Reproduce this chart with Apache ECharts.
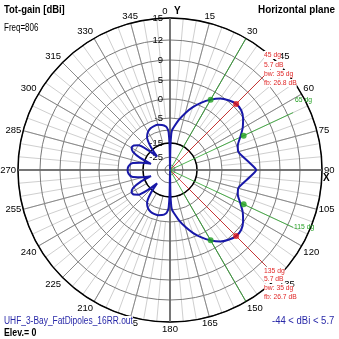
<!DOCTYPE html>
<html><head><meta charset="utf-8">
<script src="https://cdn.jsdelivr.net/npm/echarts@6/dist/echarts.min.js"></script>
<style>html,body{margin:0;padding:0;background:#fff}#c{width:339px;height:339px}</style>
</head><body><div id="c"></div>
<script>
// ---- data ----
const ANGLES = [0,1,2,3,5,10,15,20,25,30,35,40,45,50,55,60,65,70,75,80,85,90,95,100,105,110,115,120,125,130,135,140,145,150,155,160,165,170,175,177,178,179,180,
  181,182,183,185,190,195,200,205,210,215,220,224,228,232,236,240,244,248,252,256,260,265,270,
  275,280,284,288,292,296,300,304,308,312,316,320,325,330,335,340,345,350,355,357,358,359,360];
const GAIN_DBI = [-44,-18,-11.5,-10,-8.8,-5.5,-3.2,-1.1,0.9,2.7,4.3,5.2,5.7,5.6,4.8,3.4,1.7,0.3,-0.1,0.9,2.4,4.0,2.4,0.9,-0.1,0.3,1.7,3.4,4.8,5.6,5.7,5.2,4.3,2.7,0.9,-1.1,-3.2,-5.5,-8.8,-10,-11.5,-18,-44,
  -17,-11,-9.8,-8.6,-7.6,-7.2,-7.2,-7.5,-8.3,-10,-14,-21,-14,-10,-8.4,-8.2,-9.5,-13,-20,-14,-10.5,-9.3,-9.0,
  -9.3,-10.5,-14,-20,-13,-9.5,-8.2,-8.4,-10,-14,-21,-14,-10,-8.3,-7.5,-7.2,-7.2,-7.6,-8.6,-9.8,-11,-17,-44];
const RING_DB = [15,12,9,5,0,-5,-10,-15,-25,-35];
const RING_LABEL_DB = [15,12,9,5,0,-5,-15,-25,-35];
const PEAK_ANGLES = [45,135];
const PEAK_DB = 5.7;
const HALF_POWER_ANGLES = [30,65,115,150];
const HALF_POWER_DB = 2.7;

// ---- nonlinear radial scale (dB -> radius units) ----
const SCALE_DB = [-45,-35,-25,-15,-10,-5,0,5,9,12,15];
const SCALE_R  = [0,5,13,27,40,52,71,90,110,130,152];
function toR(db){
  if (db <= SCALE_DB[0]) return SCALE_R[0];
  for (let i=1;i<SCALE_DB.length;i++){
    if (db <= SCALE_DB[i]){
      const t=(db-SCALE_DB[i-1])/(SCALE_DB[i]-SCALE_DB[i-1]);
      return SCALE_R[i-1]+t*(SCALE_R[i]-SCALE_R[i-1]);
    }
  }
  return SCALE_R[SCALE_R.length-1];
}
const ringR = RING_DB.map(toR);
const labelR = RING_LABEL_DB.map(toR);
function rToLabel(r){
  for (let i=0;i<RING_LABEL_DB.length;i++) if (Math.abs(labelR[i]-r)<0.01) return String(RING_LABEL_DB[i]);
  return '';
}
const RMAX = toR(15);

const FONT = '"Liberation Sans", Arial, sans-serif';
const chart = echarts.init(document.getElementById('c'), null, {renderer:'canvas'});
const C = [170,170];
const base = {type:'value', min:0, max:360, startAngle:90, clockwise:true};

const series = [];
PEAK_ANGLES.forEach(a=>{
  series.push({type:'line', coordinateSystem:'polar', polarIndex:0, symbol:'none', silent:true, z:5,
    lineStyle:{color:'#d42020', width:0.8}, data:[[0,a],[toR(12.7),a]]});
});
HALF_POWER_ANGLES.forEach(a=>{
  const reach = (a===30||a===150)?15:12.8;
  series.push({type:'line', coordinateSystem:'polar', polarIndex:0, symbol:'none', silent:true, z:5,
    lineStyle:{color:'#24a024', width:0.8}, data:[[0,a],[toR(reach),a]]});
});
series.push({type:'line', coordinateSystem:'polar', polarIndex:0, symbol:'none', smooth:0.2, z:8,
  lineStyle:{color:'#1818a8', width:2}, data: ANGLES.map((a,i)=>[toR(GAIN_DBI[i]), a])});
series.push({type:'scatter', coordinateSystem:'polar', polarIndex:0, symbolSize:6, z:9,
  itemStyle:{color:'#e01818'}, data: PEAK_ANGLES.map(a=>[toR(PEAK_DB),a])});
series.push({type:'scatter', coordinateSystem:'polar', polarIndex:0, symbolSize:6, z:9,
  itemStyle:{color:'#20a020'}, data: HALF_POWER_ANGLES.map(a=>[toR(HALF_POWER_DB),a])});

function txt(t,x,y,opt,sx,z){
  return {type:'text', x:x, y:y, z:z||50, scaleX: sx||1,
    style:Object.assign({text:t, fill:'#000', font:'11px '+FONT, textVerticalAlign:'middle'}, opt||{})};
}
const redF = '7.5px '+FONT;
const RED = '#e02828', GRN = '#24a024';
const graphics = [
  txt('Tot-gain [dBi]',4,10,{font:'bold 11px '+FONT},0.86),
  txt('Horizontal plane',258,10,{font:'bold 11px '+FONT},0.9),
  txt('Freq=806',4,28,{font:'10px '+FONT},0.8),
  txt('Y',174,11,{font:'bold 10px '+FONT}),
  txt('X',323,178,{font:'bold 10px '+FONT}),
  txt('45 dg',264,55,{font:redF, fill:RED, backgroundColor:'#fff'},0.9),
  txt('5.7 dB',264,65,{font:redF, fill:RED, backgroundColor:'#fff'},0.9),
  txt('bw: 35 dg',264,74,{font:redF, fill:RED, backgroundColor:'#fff'},0.9),
  txt('fb: 26.8 dB',264,83,{font:redF, fill:RED, backgroundColor:'#fff'},0.9),
  txt('135 dg',264,271,{font:redF, fill:RED, backgroundColor:'#fff'},0.9),
  txt('5.7 dB',264,279,{font:redF, fill:RED, backgroundColor:'#fff'},0.9),
  txt('bw: 35 dg',264,288,{font:redF, fill:RED, backgroundColor:'#fff'},0.9),
  txt('fb: 26.7 dB',264,297,{font:redF, fill:RED, backgroundColor:'#fff'},0.9),
  txt('65 dg',295,100,{font:redF, fill:GRN},0.9),
  txt('115 dg',294,227,{font:redF, fill:GRN},0.9),
  txt('UHF_3-Bay_FatDipoles_16RR.out',4,321,{font:'10px '+FONT, fill:'#2828a8', backgroundColor:'#fff'},0.84,50),
  txt('Elev.= 0',4,333,{font:'bold 10px '+FONT},0.88,55),
  txt('-44 < dBi < 5.7',272,321,{font:'10px '+FONT, fill:'#2828a8', backgroundColor:'#fff'},0.95)
];

chart.setOption({
  animation:false,
  backgroundColor:'#fff',
  polar:[
    {center:C, radius:[0,RMAX]},
    {center:C, radius:[toR(-15),RMAX]},
    {center:C, radius:[toR(-5),RMAX]}
  ],
  angleAxis:[
    Object.assign({}, base, {polarIndex:0, interval:90, z:4,
      axisLine:{show:false}, axisTick:{show:false}, axisLabel:{show:false},
      splitLine:{show:true, lineStyle:{color:'#606060', width:1.5}}}),
    Object.assign({}, base, {polarIndex:1, interval:15, z:3,
      axisLine:{show:true, lineStyle:{color:'#000', width:1.5}}, axisTick:{show:false},
      axisLabel:{show:true, color:'#000', fontSize:9.5, fontFamily:FONT, margin:2,
        formatter:v=> v===360?'':(v===0?'{z|0}':String(v)),
        rich:{z:{fontSize:9.5, fontFamily:FONT, padding:[0,10,0,0]}}},
      splitLine:{show:true, lineStyle:{color:'#8a8a8a', width:1}}}),
    Object.assign({}, base, {polarIndex:2, interval:5, z:1,
      axisLine:{show:false}, axisTick:{show:false}, axisLabel:{show:false},
      splitLine:{show:true, lineStyle:{color:'#cfcfcf', width:1}}})
  ],
  radiusAxis:[
    {polarIndex:0, type:'value', min:0, max:RMAX, z:2,
      axisLine:{show:false}, axisTick:{show:false, customValues:ringR},
      axisLabel:{show:true, customValues:labelR, formatter:rToLabel, color:'#000', fontSize:9.5, fontFamily:FONT, margin:7},
      splitLine:{show:true, lineStyle:{color:'#7a7a7a', width:1}}},
    {polarIndex:1, type:'value', show:false, splitLine:{show:false}},
    {polarIndex:2, type:'value', show:false, splitLine:{show:false}}
  ],
  series:series,
  graphic:graphics
});
</script></body></html>
